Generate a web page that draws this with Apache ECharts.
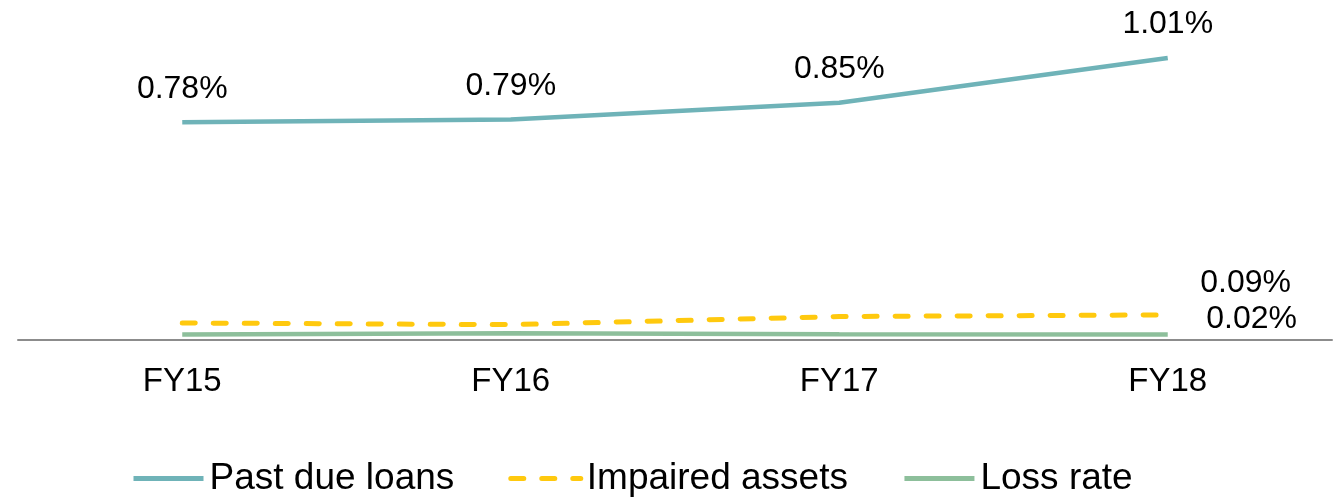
<!DOCTYPE html>
<html>
<head>
<meta charset="utf-8">
<script src="https://cdn.jsdelivr.net/npm/echarts@6/dist/echarts.min.js"></script>
<style>
html,body{margin:0;padding:0;background:#fff;}
#chart{width:1338px;height:498px;}
</style>
</head>
<body>
<div id="chart"></div>
<script>
const categories = ['FY15', 'FY16', 'FY17', 'FY18'];
const pastDueLoans = [0.78, 0.79, 0.85, 1.01];
const impairedAssets = [0.061, 0.055, 0.084, 0.09];
const lossRate = [0.02, 0.024, 0.021, 0.02];
const seriesNames = ['Past due loans', 'Impaired assets', 'Loss rate'];

const FONT = '"Liberation Sans", Arial, sans-serif';
const fmt = v => v.toFixed(2) + '%';
const CLEAR = 'rgba(0,0,0,0)';

function lastLabelOnly(arr, labelCfg) {
  return arr.map((v, i) => i === arr.length - 1
    ? { value: v, label: Object.assign({ show: true }, labelCfg) }
    : { value: v });
}

const chart = echarts.init(document.getElementById('chart'));
chart.setOption({
  animation: false,
  grid: { left: 18, right: 6, top: 5, bottom: 158 },
  xAxis: {
    type: 'category',
    data: categories,
    boundaryGap: true,
    axisLine: { lineStyle: { color: '#8c8c8c', width: 2 } },
    axisTick: { show: false },
    axisLabel: { color: '#000', fontFamily: FONT, fontSize: 33, margin: 25 }
  },
  yAxis: {
    type: 'value', min: 0, max: 1.2,
    show: false,
    splitLine: { show: false }
  },
  legend: {
    data: seriesNames,
    left: 126, top: 455,
    itemWidth: 70, itemHeight: 36, itemGap: 54,
    itemStyle: { opacity: 0 },
    lineStyle: { width: 5 },
    textStyle: { color: '#000', fontFamily: FONT, fontSize: 37, padding: [0, 0, 0, 1] }
  },
  series: [
    {
      name: seriesNames[0], type: 'line', data: pastDueLoans,
      symbol: 'circle', symbolSize: 1,
      lineStyle: { color: '#6fb3b8', width: 4.5 },
      itemStyle: { color: CLEAR },
      label: {
        show: true, position: 'top', distance: 17,
        formatter: p => fmt(p.value),
        color: '#000', fontFamily: FONT, fontSize: 32
      }
    },
    {
      name: seriesNames[1], type: 'line',
      data: lastLabelOnly(impairedAssets, {
        position: 'right', distance: 32, offset: [0, -32],
        formatter: p => fmt(p.value),
        color: '#000', fontFamily: FONT, fontSize: 32
      }),
      symbol: 'circle', symbolSize: 1,
      lineStyle: { color: '#ffc90e', width: 5, type: [13, 18], cap: 'round' },
      itemStyle: { color: CLEAR }
    },
    {
      name: seriesNames[2], type: 'line',
      data: lastLabelOnly(lossRate, {
        position: 'right', distance: 38, offset: [0, -15],
        formatter: p => fmt(p.value),
        color: '#000', fontFamily: FONT, fontSize: 32
      }),
      symbol: 'circle', symbolSize: 1,
      lineStyle: { color: '#8dbf9b', width: 4.5 },
      itemStyle: { color: CLEAR }
    }
  ]
});
</script>
</body>
</html>
